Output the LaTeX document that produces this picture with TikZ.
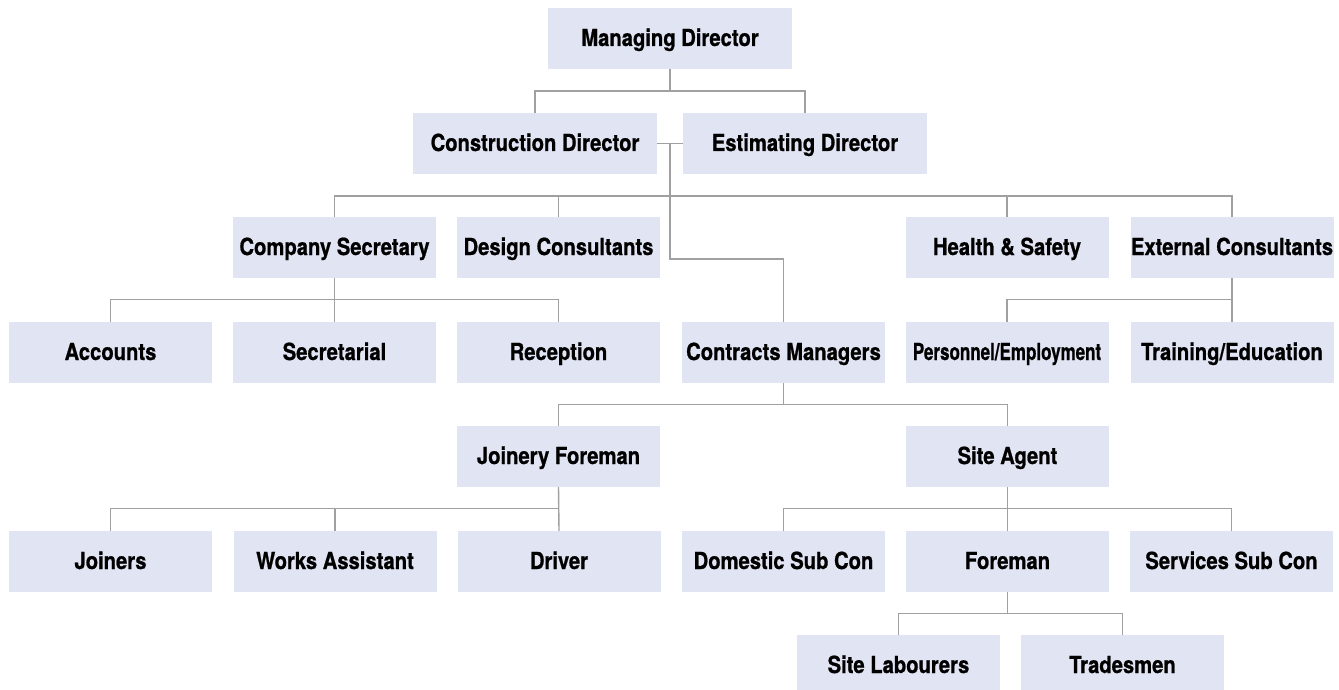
\documentclass[tikz,border=0pt]{standalone}
\usepackage{fontspec}
\setmainfont{TeX Gyre Heros}[FakeStretch=0.86, BoldFeatures={FakeBold=0.8}]
\usetikzlibrary{calc}
\definecolor{boxfill}{RGB}{225,229,243}
\definecolor{linegray}{RGB}{160,160,160}
\begin{document}
\begin{tikzpicture}[x=1pt,y=-1pt,
  box/.style={rectangle, fill=boxfill, minimum width=203pt, minimum height=61pt, inner sep=0pt,
    text height=15pt, text depth=0pt,
    font=\bfseries\fontsize{23.5}{26}\selectfont},
  widebox/.style={box, minimum width=244pt},
  conn/.style={draw=linegray, line width=1.4pt}]
\useasboundingbox (0,0) rectangle (1339,690);
\clip (0,0) rectangle (1339,690);
% row 1-2
\node[widebox] (MD) at (670,38.5) {Managing Director};
\node[widebox] (CD) at (535,143.5) {Construction Director};
\node[widebox] (ED) at (805,143.5) {Estimating Director};
% row 3
\node[box] (CS) at (334.5,247.5) {Company Secretary};
\node[box] (DC) at (558.5,247.5) {Design Consultants};
\node[box] (HS) at (1007,247.5) {Health \& Safety};
\node[box] (EC) at (1232,247.5) {External Consultants};
% row 4
\node[box] (AC) at (110.5,352.5) {Accounts};
\node[box] (SE) at (334.5,352.5) {Secretarial};
\node[box] (RE) at (558.5,352.5) {Reception};
\node[box] (CM) at (783.5,352.5) {Contracts Managers};
\node[box] (PE) at (1007,352.5) {\scalebox{0.84}[1]{Personnel/Employment}};
\node[box] (TR) at (1232,352.5) {Training/Education};
% row 5
\node[box] (JF) at (558.5,456.5) {Joinery Foreman};
\node[box] (SA) at (1007.5,456.5) {Site Agent};
% row 6
\node[box] (JO) at (110.5,561.5) {Joiners};
\node[box] (WA) at (335,561.5) {Works Assistant};
\node[box] (DR) at (559,561.5) {Driver};
\node[box] (DS) at (783.5,561.5) {Domestic Sub Con};
\node[box] (FO) at (1007.5,561.5) {Foreman};
\node[box] (SS) at (1231.5,561.5) {Services Sub Con};
% row 7
\node[box] (SL) at (898.5,665.5) {Site Labourers};
\node[box] (TM) at (1122.5,665.5) {Tradesmen};

% connectors
% MD -> directors
\coordinate (b1) at ($(MD.south)+(0,22)$);
\draw[conn] (MD.south) -- (b1);
\draw[conn] (CD.north) |- (b1) -| (ED.north);
% directors -> row 3
\coordinate (j) at ($(CD.east)!0.5!(ED.west)$);
\coordinate (b3) at ($(CS.north)+(0,-21)$);
\coordinate (k) at ($(j |- CS.north)+(0,42)$);
\draw[conn] (CD.east) -- (ED.west);
\draw[conn] (j) -- (k) -| (CM.north);
\draw[conn] (CS.north) |- (b3) -| (EC.north);
\draw[conn] (DC.north) -- (DC.north |- b3);
\draw[conn] (HS.north) -- (HS.north |- b3);
% company secretary -> row 4
\coordinate (b4) at ($(CS.south)+(0,21)$);
\draw[conn] (CS.south) -- (SE.north);
\draw[conn] (AC.north) |- (b4) -| (RE.north);
% external consultants -> row 4
\coordinate (b4e) at ($(EC.south)+(0,21)$);
\draw[conn] (EC.south) -- (TR.north);
\draw[conn] (PE.north) |- (b4e);
% contracts managers -> row 5
\coordinate (b5) at ($(CM.south)+(0,21)$);
\draw[conn] (CM.south) -- (b5);
\draw[conn] (JF.north) |- (b5) -| (SA.north);
% joinery foreman -> row 6
\coordinate (b6) at ($(JF.south)+(0,21)$);
\draw[conn] (JF.south) -- (DR.north);
\draw[conn] (JO.north) |- (b6);
\draw[conn] (WA.north) -- (WA.north |- b6);
% site agent -> row 6
\coordinate (b6s) at ($(SA.south)+(0,21)$);
\draw[conn] (SA.south) -- (FO.north);
\draw[conn] (DS.north) |- (b6s) -| (SS.north);
% foreman -> row 7
\coordinate (b7) at ($(FO.south)+(0,21)$);
\draw[conn] (FO.south) -- (b7);
\draw[conn] (SL.north) |- (b7) -| (TM.north);
\end{tikzpicture}
\end{document}
